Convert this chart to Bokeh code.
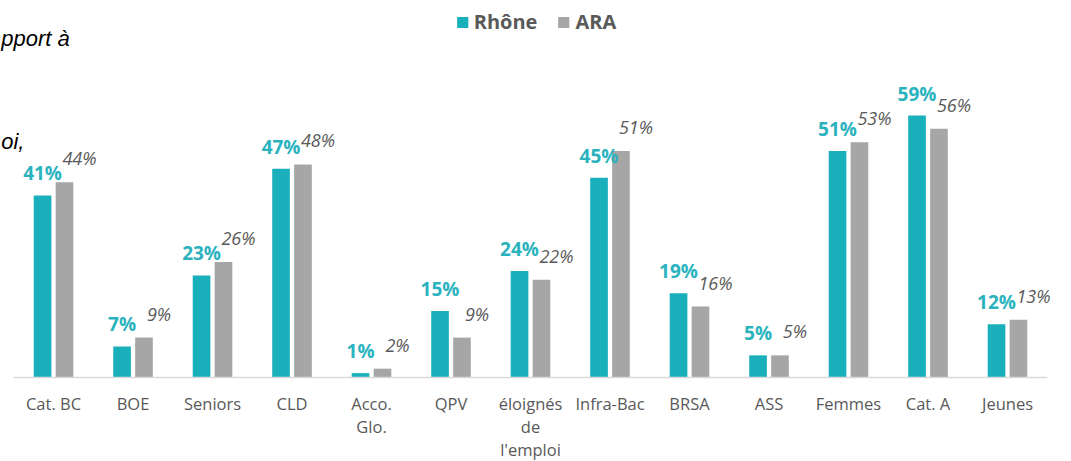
from bokeh.plotting import figure
from bokeh.models import ColumnDataSource, Range1d, Label, Legend, LegendItem
from bokeh.transform import dodge
from bokeh.core.properties import value
from bokeh.embed import file_html
from bokeh.resources import INLINE

categories = ["Cat. BC", "BOE", "Seniors", "CLD", "Acco.\nGlo.", "QPV",
              "éloignés\nde\nl'emploi", "Infra-Bac", "BRSA", "ASS", "Femmes",
              "Cat. A", "Jeunes"]
rhone = [41, 7, 23, 47, 1, 15, 24, 45, 19, 5, 51, 59, 12]
ara = [44, 9, 26, 48, 2, 9, 22, 51, 16, 5, 53, 56, 13]
series_names = ["Rhône", "ARA"]
side_texts = ["pport à", "oi,"]

TEAL = "#19B0BB"
GRAY = "#A6A6A6"
DARK = "#595959"

n = len(categories)
src = ColumnDataSource(dict(
    idx=list(range(n)),
    cat_lbl=categories,
    zero=[0] * n,
    rhone=rhone,
    ara=ara,
    rhone_lbl=[f"{v}%" for v in rhone],
    ara_lbl=[f"{v}%" for v in ara],
))

p = figure(x_range=Range1d(-0.667, 12.805),
           y_range=Range1d(-18.9, 83.1),
           width=1071, height=461,
           output_backend="svg", toolbar_location=None,
           x_axis_location=None, y_axis_location=None,
           min_border_left=0, min_border_right=0,
           min_border_top=8, min_border_bottom=0)

r1 = p.vbar(x=dodge("idx", -0.138), top="rhone", width=0.222,
            source=src, fill_color=TEAL, line_color=None)
r2 = p.vbar(x=dodge("idx", 0.138), top="ara", width=0.222,
            source=src, fill_color=GRAY, line_color=None)

# category axis baseline, spanning the category slots
p.segment(x0=[-0.5], y0=[0], x1=[n - 0.5], y1=[0],
          line_color="#D9D9D9", line_width=1.5)

# category labels
p.text(x="idx", y="zero", text="cat_lbl", source=src, y_offset=14,
       text_align="center", text_baseline="top", text_line_height=1.0,
       text_font=value("Open Sans"), text_font_size="16.5px", text_color=DARK)

# value labels
p.text(x=dodge("idx", -0.138), y="rhone", text="rhone_lbl",
       source=src, y_offset=-22, text_align="center", text_baseline="alphabetic",
       text_font=value("Open Sans"), text_font_style="bold",
       text_font_size="19px", text_color="#2AB3BE")
p.text(x=dodge("idx", 0.138), y="ara", text="ara_lbl",
       source=src, x_offset=15, y_offset=-24, text_align="center",
       text_baseline="alphabetic",
       text_font=value("Open Sans"), text_font_style="italic",
       text_font_size="18px", text_color=DARK)

legend = Legend(items=[LegendItem(label=series_names[0], renderers=[r1]),
                       LegendItem(label=series_names[1], renderers=[r2])],
                orientation="horizontal", location="top_center",
                glyph_width=14, glyph_height=14, label_standoff=5, spacing=19,
                label_text_font="Open Sans", label_text_font_style="bold",
                label_text_font_size="20px", label_text_color=DARK,
                padding=0, margin=0, border_line_color=None,
                background_fill_alpha=0)
p.add_layout(legend)

# text fragments at the left edge
p.add_layout(Label(x=-0.658, y=76.4, text=side_texts[0], text_font="Liberation Sans",
                   text_font_style="italic", text_font_size="22px",
                   text_color="black", text_baseline="alphabetic"))
p.add_layout(Label(x=-0.658, y=53.2, text=side_texts[1], text_font="Liberation Sans",
                   text_font_style="italic", text_font_size="22px",
                   text_color="black", text_baseline="alphabetic"))

p.xgrid.grid_line_color = None
p.ygrid.grid_line_color = None
p.outline_line_color = None

open("out.html", "w").write(file_html(p, INLINE))
